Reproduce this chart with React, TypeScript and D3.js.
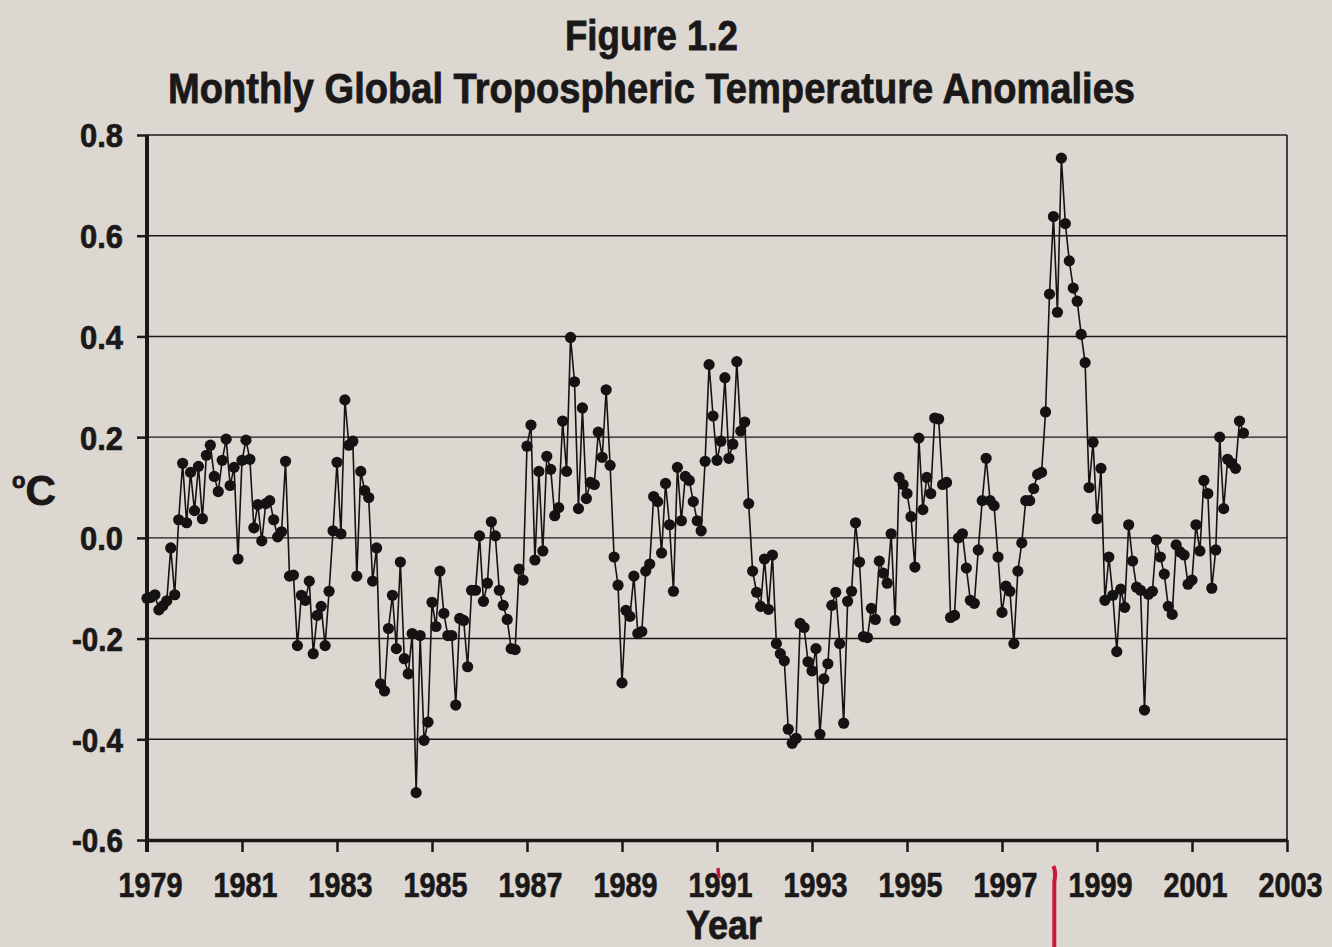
import React, { useEffect, useRef } from "react";
import * as d3 from "d3";

const width = 1332;
const height = 947;
const margin = { top: 135, right: 45, bottom: 107, left: 147 };
const bg = "#dcd8d1";
const ink = "#1b1819";
const font = "'Liberation Sans Narrow', 'Liberation Sans', Arial, sans-serif";

// monthly anomalies (deg C), Jan 1979 onwards
const y1979 = [-0.12, -0.118, -0.113, -0.143, -0.135, -0.125, -0.02, -0.113, 0.036, 0.148, 0.03, 0.13];
const y1980 = [0.054, 0.142, 0.038, 0.164, 0.184, 0.122, 0.092, 0.154, 0.196, 0.104, 0.14, -0.042];
const y1981 = [0.154, 0.194, 0.156, 0.02, 0.066, -0.006, 0.068, 0.074, 0.036, 0.002, 0.012, 0.152];
const y1982 = [-0.076, -0.074, -0.214, -0.114, -0.124, -0.086, -0.23, -0.154, -0.136, -0.214, -0.106, 0.014];
const y1983 = [0.15, 0.008, 0.274, 0.184, 0.192, -0.076, 0.132, 0.094, 0.08, -0.086, -0.02, -0.29];
const y1984 = [-0.304, -0.18, -0.114, -0.22, -0.048, -0.24, -0.27, -0.19, -0.506, -0.194, -0.402, -0.366];
const y1985 = [-0.128, -0.176, -0.066, -0.15, -0.194, -0.194, -0.332, -0.16, -0.164, -0.256, -0.104, -0.104];
const y1986 = [0.004, -0.126, -0.09, 0.032, 0.004, -0.104, -0.134, -0.162, -0.22, -0.222, -0.062, -0.084];
const y1987 = [0.182, 0.224, -0.044, 0.132, -0.026, 0.162, 0.136, 0.044, 0.06, 0.232, 0.132, 0.398];
const y1988 = [0.31, 0.058, 0.258, 0.078, 0.11, 0.106, 0.21, 0.16, 0.294, 0.144, -0.038, -0.094];
const y1989 = [-0.288, -0.144, -0.156, -0.076, -0.19, -0.186, -0.066, -0.052, 0.082, 0.072, -0.03, 0.108];
const y1990 = [0.026, -0.106, 0.14, 0.034, 0.122, 0.114, 0.072, 0.034, 0.014, 0.152, 0.344, 0.242];
const y1991 = [0.154, 0.192, 0.318, 0.158, 0.186, 0.35, 0.212, 0.23, 0.068, -0.066, -0.108, -0.136];
const y1992 = [-0.042, -0.142, -0.034, -0.21, -0.23, -0.244, -0.38, -0.408, -0.398, -0.17, -0.178, -0.246];
const y1993 = [-0.264, -0.22, -0.39, -0.28, -0.25, -0.134, -0.108, -0.21, -0.368, -0.126, -0.106, 0.03];
const y1994 = [-0.048, -0.196, -0.198, -0.14, -0.162, -0.046, -0.07, -0.09, 0.008, -0.164, 0.12, 0.106];
const y1995 = [0.088, 0.042, -0.058, 0.198, 0.056, 0.12, 0.088, 0.238, 0.236, 0.106, 0.11, -0.158];
const y1996 = [-0.154, 0.0, 0.008, -0.06, -0.124, -0.13, -0.024, 0.074, 0.158, 0.074, 0.064, -0.038];
const y1997 = [-0.148, -0.096, -0.106, -0.21, -0.066, -0.01, 0.074, 0.074, 0.098, 0.126, 0.13, 0.25];
const y1998 = [0.484, 0.638, 0.448, 0.754, 0.624, 0.55, 0.496, 0.47, 0.404, 0.348, 0.1, 0.19];
const y1999 = [0.038, 0.138, -0.124, -0.038, -0.114, -0.226, -0.102, -0.138, 0.026, -0.046, -0.098, -0.104];
const y2000 = [-0.342, -0.112, -0.106, -0.004, -0.038, -0.072, -0.136, -0.152, -0.014, -0.028, -0.034, -0.092];
const y2001 = [-0.084, 0.026, -0.026, 0.114, 0.088, -0.1, -0.024, 0.2, 0.058, 0.156, 0.148, 0.138];
const y2002 = [0.232, 0.208];

const startYear = 1979;
const anomalies = [
  ...y1979, ...y1980, ...y1981, ...y1982, ...y1983, ...y1984, ...y1985, ...y1986,
  ...y1987, ...y1988, ...y1989, ...y1990, ...y1991, ...y1992, ...y1993, ...y1994,
  ...y1995, ...y1996, ...y1997, ...y1998, ...y1999, ...y2000, ...y2001, ...y2002,
];

const xTicks = [1979, 1981, 1983, 1985, 1987, 1989, 1991, 1993, 1995, 1997, 1999, 2001, 2003];
const yTicks = [-0.6, -0.4, -0.2, 0.0, 0.2, 0.4, 0.6, 0.8];

export default function App() {
  const ref = useRef<SVGSVGElement>(null);

  useEffect(() => {
    document.body.style.margin = "0";
    const svg = d3.select(ref.current);
    svg.selectAll("*").remove();

    const x = d3.scaleLinear().domain([1979, 2003]).range([margin.left, width - margin.right]);
    const y = d3.scaleLinear().domain([-0.6, 0.8]).range([height - margin.bottom, margin.top]);

    const data = anomalies.map((v, i) => ({ t: startYear + i / 12, v }));

    // grid lines
    svg.append("g")
      .selectAll("line")
      .data(yTicks.filter(d => d > -0.6))
      .join("line")
      .attr("x1", x(1979))
      .attr("x2", x(2003))
      .attr("y1", d => y(d))
      .attr("y2", d => y(d))
      .attr("stroke", ink)
      .attr("stroke-width", 1.4);

    // right border
    svg.append("line")
      .attr("x1", x(2003)).attr("x2", x(2003))
      .attr("y1", y(0.8)).attr("y2", y(-0.6))
      .attr("stroke", ink).attr("stroke-width", 1.6);

    // y axis
    const yAxis = d3.axisLeft(y)
      .tickValues(yTicks)
      .tickFormat(d => (+d).toFixed(1))
      .tickSize(10)
      .tickSizeOuter(0)
      .tickPadding(14);
    const gy = svg.append("g").attr("transform", `translate(${x(1979)},0)`).call(yAxis);
    gy.select(".domain").attr("stroke", ink).attr("stroke-width", 4)
      .attr("d", `M0,${y(0.8)}V${y(-0.6) + 12}`);
    gy.selectAll(".tick line").attr("stroke", ink).attr("stroke-width", 2.5);
    gy.selectAll(".tick text")
      .attr("fill", ink)
      .attr("stroke", ink)
      .attr("stroke-width", 0.7)
      .attr("font-family", font)
      .attr("font-weight", 700)
      .attr("font-size", 33)
      .attr("dy", "0.36em")
      .attr("textLength", (d: any) => (d < 0 ? 51 : 43))
      .attr("lengthAdjust", "spacingAndGlyphs");

    // x axis
    const xAxis = d3.axisBottom(x)
      .tickValues(xTicks)
      .tickFormat(d3.format("d"))
      .tickSize(12)
      .tickSizeOuter(0)
      .tickPadding(20);
    const gx = svg.append("g").attr("transform", `translate(0,${y(-0.6)})`).call(xAxis);
    gx.select(".domain").attr("stroke", ink).attr("stroke-width", 3.5);
    gx.selectAll(".tick line").attr("stroke", ink).attr("stroke-width", 2.5);
    gx.selectAll(".tick text")
      .attr("fill", ink)
      .attr("stroke", ink)
      .attr("stroke-width", 0.7)
      .attr("font-family", font)
      .attr("font-weight", 700)
      .attr("font-size", 35)
      .attr("dx", 3)
      .attr("dy", "0.71em")
      .attr("textLength", 64)
      .attr("lengthAdjust", "spacingAndGlyphs");

    // series
    const line = d3.line<{ t: number; v: number }>().x(d => x(d.t)).y(d => y(d.v));
    svg.append("path")
      .datum(data)
      .attr("d", line)
      .attr("fill", "none")
      .attr("stroke", "#141213")
      .attr("stroke-width", 1.6);
    svg.append("g")
      .selectAll("circle")
      .data(data)
      .join("circle")
      .attr("cx", d => x(d.t))
      .attr("cy", d => y(d.v))
      .attr("r", 5.6)
      .attr("fill", "#141213");

    // titles
    const title = svg.append("g")
      .attr("fill", ink)
      .attr("stroke", ink)
      .attr("stroke-width", 0.8)
      .attr("font-family", font)
      .attr("font-weight", 700);
    title.append("text")
      .attr("x", 565).attr("y", 50)
      .attr("font-size", 42)
      .attr("textLength", 173)
      .attr("lengthAdjust", "spacingAndGlyphs")
      .text("Figure 1.2");
    title.append("text")
      .attr("x", 168).attr("y", 103)
      .attr("font-size", 42)
      .attr("textLength", 967)
      .attr("lengthAdjust", "spacingAndGlyphs")
      .text("Monthly Global Tropospheric Temperature Anomalies");

    // axis titles
    const yl = title.append("text").attr("x", 12).attr("y", 505).attr("font-size", 42);
    yl.append("tspan").attr("font-size", 22).attr("dy", -17).text("o");
    yl.append("tspan").attr("dy", 17).text("C");
    title.append("text")
      .attr("x", 686).attr("y", 939)
      .attr("font-size", 40)
      .attr("textLength", 76)
      .attr("lengthAdjust", "spacingAndGlyphs")
      .text("Year");

    // red pen marks on the scan
    svg.append("path")
      .attr("d", `M${x(1991.02)},${y(-0.6) + 28} l1,10`)
      .attr("stroke", "#c41a3b").attr("stroke-width", 3.5).attr("fill", "none");
    svg.append("path")
      .attr("d", `M${x(1998.08)},${y(-0.6) + 26} q3,6 1,16 L${x(1998.08) + 1},${height}`)
      .attr("stroke", "#c8183a").attr("stroke-width", 4).attr("fill", "none");
  }, []);

  return (
    <svg ref={ref} width={width} height={height} style={{ display: "block", background: bg }} />
  );
}
